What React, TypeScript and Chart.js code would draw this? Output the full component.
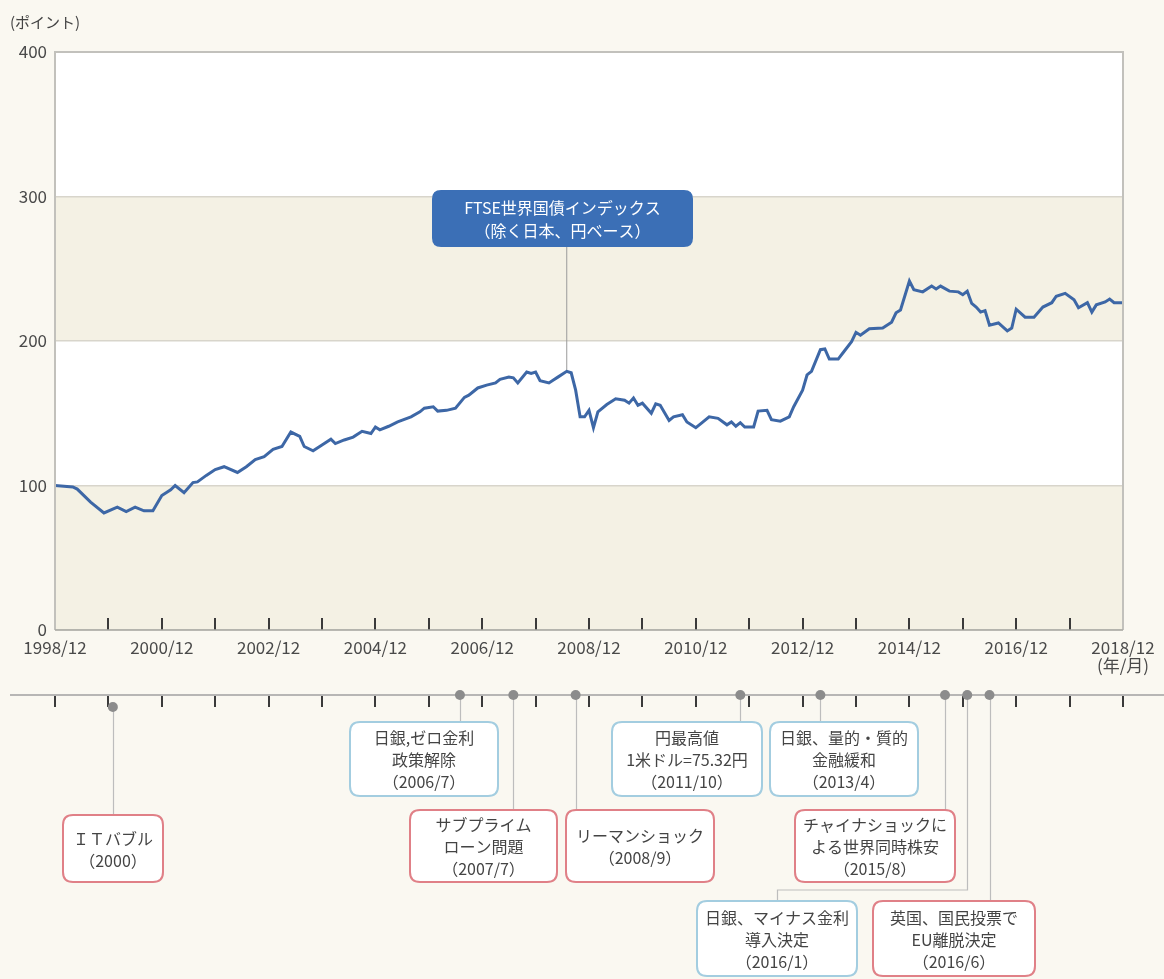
import { useEffect, useRef } from 'react';
import { Chart, registerables } from 'chart.js';

Chart.register(...registerables);

// ---- data (month offsets from 1998/12, index values) ----
const monthOffsets = [
  0, 4, 5, 8, 11, 14, 16, 18, 20, 22,
  24, 26, 27, 29, 31, 32, 34, 36, 38, 41,
  43, 45, 47, 49, 51, 53, 55, 56, 58, 60,
  62, 63, 65, 67, 69, 71, 72, 73, 75, 77,
  80, 82, 83, 85, 86, 88, 90, 92, 93, 95,
  97, 99, 100, 102, 103, 104, 106, 107, 108, 109,
  111, 112, 113, 115, 116, 117, 118, 119, 120, 121,
  122, 124, 126, 128, 129, 130, 131, 132, 134, 135,
  136, 138, 139, 141, 142, 144, 145, 147, 149, 151,
  152, 153, 154, 155, 157, 158, 160, 161, 163, 165,
  166, 168, 169, 170, 172, 173, 174, 176, 177, 179,
  180, 181, 183, 186, 188, 189, 190, 192, 193, 195,
  197, 198, 199, 201, 203, 204, 205, 206, 207, 208,
  209, 210, 212, 214, 215, 216, 218, 220, 222, 224,
  225, 227, 229, 230, 232, 233, 234, 236, 237, 238,
  240,
];
const indexValues = [
  100, 99, 97.5, 88.5, 81, 85, 82, 85, 82.5, 82.5,
  93, 97, 100, 95, 102, 102.5, 107, 111, 113, 109,
  113, 118, 120, 125, 127, 137, 134, 127, 124, 128,
  132, 129, 131.5, 133.5, 137.5, 136, 140.5, 138.5, 141, 144,
  147.5, 151, 153.5, 154.5, 151.5, 152, 153.5, 161, 162.5, 167.5,
  169.5, 171, 173.5, 175, 174.5, 171, 178.5, 177.5, 178.5, 172.5,
  171, 173, 175, 179, 178, 166, 147.5, 147.5, 152, 140,
  151, 156, 160, 159, 157, 160.5, 155.5, 157, 150, 156.5,
  155.5, 145, 147.5, 149, 144, 140, 142.5, 147.5, 146.5, 142,
  144, 141, 143.5, 140.5, 140.5, 151.5, 152, 145.5, 144.5, 147.5,
  154.5, 166, 176.5, 179, 194, 194.5, 187.5, 187.5, 191.5, 199.5,
  206, 204, 208.5, 209, 213, 219.5, 221.5, 241.5, 235.5, 234,
  238, 236, 238, 234.5, 234, 232, 234.5, 226, 223.5, 220,
  221, 211, 212.5, 207, 209, 222, 216.5, 216.5, 223.5, 226.5,
  231, 233, 228.5, 223, 226.5, 220, 225, 227, 229, 226.5,
  226.5,
];

const xTickLabels = [
  '1998/12', '2000/12', '2002/12', '2004/12', '2006/12', '2008/12',
  '2010/12', '2012/12', '2014/12', '2016/12', '2018/12',
];
const xUnitLabel = '(年/月)';
const yTickValues = [0, 100, 200, 300, 400];
const yUnitLabel = '(ポイント)';

const seriesName = ['FTSE世界国債インデックス', '（除く日本、円ベース）'];
const seriesAnchorMonth = 115;
const seriesAnchorValue = 179;

const eventLabels = [
  ['ＩＴバブル', '（2000）'],
  ['日銀,ゼロ金利', '政策解除', '（2006/7）'],
  ['サブプライム', 'ローン問題', '（2007/7）'],
  ['リーマンショック', '（2008/9）'],
  ['円最高値', '1米ドル=75.32円', '（2011/10）'],
  ['日銀、量的・質的', '金融緩和', '（2013/4）'],
  ['チャイナショックに', 'よる世界同時株安', '（2015/8）'],
  ['日銀、マイナス金利', '導入決定', '（2016/1）'],
  ['英国、国民投票で', 'EU離脱決定', '（2016/6）'],
];
const eventMonths = [13, 91, 103, 117, 154, 172, 200, 205, 210];
const eventKinds = ['red', 'blue', 'red', 'red', 'blue', 'blue', 'red', 'blue', 'red'];

// ---- layout / style (not data) ----
const W = 1164;
const H = 979;
const PLOT_TOP = 52;
const PLOT_BOTTOM = 630;
const PLOT_LEFT = 55;
const PLOT_RIGHT = 1123;
const TIMELINE_Y = 695;
const FONT = '"Noto Sans CJK JP", "Noto Sans", sans-serif';

const PAGE_BG = '#faf8f1';
const BAND = '#f4f1e4';
const GRID = '#d8d5cb';
const FRAME = '#c2c1bc';
const LINE = '#3d67a6';
const CALLOUT_FILL = '#3b6fb6';
const BLUE_BORDER = '#a3cde0';
const RED_BORDER = '#e08087';
const TEXT = '#444444';
const DOT = '#8c8c8c';
const CONNECTOR = '#bdbdbd';

const calloutBox = { x: 432, y: 190, w: 261, h: 57 };
const eventBoxes = [
  { x: 63, y: 815, w: 100, h: 67 },
  { x: 350, y: 722, w: 148, h: 74 },
  { x: 410, y: 810, w: 147, h: 72 },
  { x: 566, y: 810, w: 148, h: 72 },
  { x: 612, y: 722, w: 150, h: 74 },
  { x: 770, y: 722, w: 148, h: 74 },
  { x: 795, y: 810, w: 160, h: 72 },
  { x: 697, y: 901, w: 160, h: 75 },
  { x: 873, y: 901, w: 162, h: 75 },
];
const eventDotDy = [12, 0, 0, 0, 0, 0, 0, 0, 0];
const elbowY = 890;

function rr(ctx: CanvasRenderingContext2D, x: number, y: number, w: number, h: number, r: number) {
  ctx.beginPath();
  ctx.moveTo(x + r, y);
  ctx.lineTo(x + w - r, y);
  ctx.quadraticCurveTo(x + w, y, x + w, y + r);
  ctx.lineTo(x + w, y + h - r);
  ctx.quadraticCurveTo(x + w, y + h, x + w - r, y + h);
  ctx.lineTo(x + r, y + h);
  ctx.quadraticCurveTo(x, y + h, x, y + h - r);
  ctx.lineTo(x, y + r);
  ctx.quadraticCurveTo(x, y, x + r, y);
  ctx.closePath();
}

function drawLines(ctx: CanvasRenderingContext2D, lines: string[], cx: number, cy: number, lh: number) {
  const n = lines.length;
  lines.forEach((t, i) => ctx.fillText(t, cx, cy + (i - (n - 1) / 2) * lh));
}

const decor = {
  id: 'decor',
  beforeDraw(chart: any) {
    const { ctx, chartArea: ca, scales } = chart;
    const y = scales.y;
    ctx.save();
    ctx.fillStyle = PAGE_BG;
    ctx.fillRect(0, 0, chart.width, chart.height);
    for (let i = 0; i < yTickValues.length - 1; i++) {
      const top = y.getPixelForValue(yTickValues[i + 1]);
      const bot = y.getPixelForValue(yTickValues[i]);
      ctx.fillStyle = i % 2 === 0 ? BAND : '#ffffff';
      ctx.fillRect(ca.left, top, ca.right - ca.left, bot - top);
    }
    ctx.restore();
  },
  beforeDatasetsDraw(chart: any) {
    const { ctx, chartArea: ca, scales } = chart;
    const x = scales.x;
    const y = scales.y;
    ctx.save();
    ctx.strokeStyle = '#3a3a3a';
    ctx.lineWidth = 2;
    for (let m = 12; m < 240; m += 12) {
      const px = Math.round(x.getPixelForValue(m));
      ctx.beginPath();
      ctx.moveTo(px, ca.bottom - 12);
      ctx.lineTo(px, ca.bottom);
      ctx.stroke();
    }
    const ax = x.getPixelForValue(seriesAnchorMonth);
    ctx.strokeStyle = '#9a9a9a';
    ctx.lineWidth = 1;
    ctx.beginPath();
    ctx.moveTo(ax, calloutBox.y + calloutBox.h);
    ctx.lineTo(ax, y.getPixelForValue(seriesAnchorValue));
    ctx.stroke();
    ctx.restore();
  },
  afterDatasetsDraw(chart: any) {
    const { ctx, chartArea: ca } = chart;
    ctx.save();
    ctx.strokeStyle = FRAME;
    ctx.lineWidth = 2;
    ctx.beginPath();
    ctx.moveTo(ca.left, ca.bottom);
    ctx.lineTo(ca.left, ca.top);
    ctx.lineTo(ca.right, ca.top);
    ctx.lineTo(ca.right, ca.bottom);
    ctx.stroke();
    ctx.strokeStyle = '#a9a8a3';
    ctx.lineWidth = 1.5;
    ctx.beginPath();
    ctx.moveTo(ca.left, ca.bottom);
    ctx.lineTo(ca.right, ca.bottom);
    ctx.stroke();
    ctx.fillStyle = CALLOUT_FILL;
    rr(ctx, calloutBox.x, calloutBox.y, calloutBox.w, calloutBox.h, 9);
    ctx.fill();
    ctx.fillStyle = '#ffffff';
    ctx.font = `16px ${FONT}`;
    ctx.textAlign = 'center';
    ctx.textBaseline = 'middle';
    drawLines(ctx, seriesName, calloutBox.x + calloutBox.w / 2, calloutBox.y + calloutBox.h / 2 + 1, 23);
    ctx.restore();
  },
  afterDraw(chart: any) {
    const { ctx, scales } = chart;
    const x = scales.x;
    ctx.save();
    ctx.fillStyle = TEXT;
    ctx.font = `15px ${FONT}`;
    ctx.textAlign = 'left';
    ctx.textBaseline = 'middle';
    ctx.fillText(yUnitLabel, 10, 22);

    ctx.strokeStyle = '#a0a0a0';
    ctx.lineWidth = 1.5;
    ctx.beginPath();
    ctx.moveTo(10, TIMELINE_Y);
    ctx.lineTo(W, TIMELINE_Y);
    ctx.stroke();
    ctx.strokeStyle = '#3a3a3a';
    ctx.lineWidth = 2;
    for (let m = 0; m <= 240; m += 12) {
      const px = Math.round(x.getPixelForValue(m));
      ctx.beginPath();
      ctx.moveTo(px, TIMELINE_Y + 1);
      ctx.lineTo(px, TIMELINE_Y + 12);
      ctx.stroke();
    }

    ctx.strokeStyle = CONNECTOR;
    ctx.lineWidth = 1.2;
    eventMonths.forEach((m, i) => {
      const px = Math.round(x.getPixelForValue(m)) + 0.5;
      const py = TIMELINE_Y + eventDotDy[i];
      const b = eventBoxes[i];
      ctx.beginPath();
      ctx.moveTo(px, py);
      if (px < b.x || px > b.x + b.w) {
        const cx = Math.round(b.x + b.w / 2) + 0.5;
        ctx.lineTo(px, elbowY);
        ctx.lineTo(cx, elbowY);
        ctx.lineTo(cx, b.y);
      } else {
        ctx.lineTo(px, b.y);
      }
      ctx.stroke();
    });

    ctx.fillStyle = DOT;
    eventMonths.forEach((m, i) => {
      const px = x.getPixelForValue(m);
      ctx.beginPath();
      ctx.arc(px, TIMELINE_Y + eventDotDy[i], 5, 0, Math.PI * 2);
      ctx.fill();
    });

    ctx.font = `16px ${FONT}`;
    ctx.textAlign = 'center';
    ctx.textBaseline = 'middle';
    eventBoxes.forEach((b, i) => {
      rr(ctx, b.x, b.y, b.w, b.h, 10);
      ctx.fillStyle = '#ffffff';
      ctx.fill();
      ctx.strokeStyle = eventKinds[i] === 'red' ? RED_BORDER : BLUE_BORDER;
      ctx.lineWidth = 2;
      ctx.stroke();
      ctx.fillStyle = TEXT;
      drawLines(ctx, eventLabels[i], b.x + b.w / 2, b.y + b.h / 2 + 1, 22);
    });
    ctx.restore();
  },
};

export default function App() {
  const ref = useRef<HTMLCanvasElement | null>(null);

  useEffect(() => {
    if (!ref.current) return;
    const points = monthOffsets.map((m, i) => ({ x: m, y: indexValues[i] }));
    const chart = new Chart(ref.current, {
      type: 'line',
      data: {
        datasets: [
          {
            label: seriesName.join(''),
            data: points,
            borderColor: LINE,
            borderWidth: 3,
            pointRadius: 0,
            tension: 0,
            fill: false,
          },
        ],
      },
      options: {
        responsive: false,
        animation: false,
        devicePixelRatio: 1,
        layout: { padding: { top: PLOT_TOP, right: W - PLOT_RIGHT, left: 0, bottom: 0 } },
        plugins: { legend: { display: false }, tooltip: { enabled: false } },
        scales: {
          x: {
            type: 'linear',
            min: 0,
            max: 240,
            afterFit: (s: any) => {
              s.height = H - PLOT_BOTTOM;
            },
            grid: { display: false, drawTicks: false },
            border: { display: false },
            ticks: {
              stepSize: 24,
              autoSkip: false,
              maxRotation: 0,
              padding: 9,
              color: '#4a4a4a',
              font: { family: FONT, size: 17, lineHeight: 1.05 },
              callback: (v: any) => {
                const i = Math.round(Number(v) / 24);
                const lab = xTickLabels[i] ?? '';
                return i === xTickLabels.length - 1 ? [lab, xUnitLabel] : lab;
              },
            },
          },
          y: {
            min: 0,
            max: 400,
            afterFit: (s: any) => {
              s.width = PLOT_LEFT;
            },
            grid: { color: GRID, lineWidth: 1.5, drawTicks: false },
            border: { display: false },
            ticks: {
              stepSize: 100,
              padding: 8,
              color: '#4a4a4a',
              font: { family: FONT, size: 17 },
            },
          },
        },
      },
      plugins: [decor],
    });
    return () => chart.destroy();
  }, []);

  return (
    <div style={{ position: 'absolute', left: 0, top: 0, width: W, height: H, background: PAGE_BG }}>
      <canvas ref={ref} width={W} height={H} style={{ display: 'block' }} />
    </div>
  );
}
